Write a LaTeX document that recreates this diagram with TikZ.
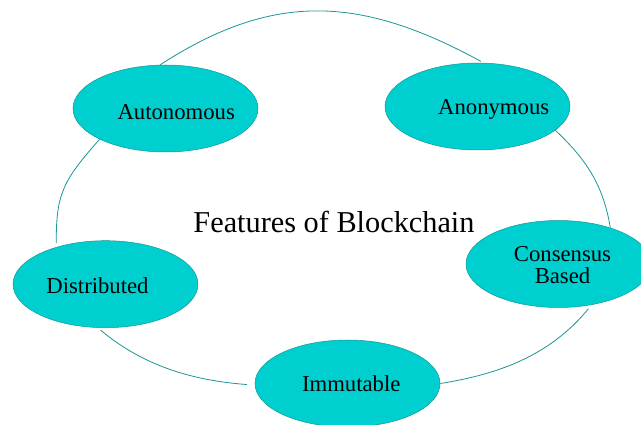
\documentclass[tikz,border=0pt]{standalone}
\usepackage{fontspec}
\setmainfont{Liberation Serif}
\usetikzlibrary{shapes.geometric}
\definecolor{bubfill}{RGB}{0,207,208}
\definecolor{bubline}{RGB}{20,150,150}
\definecolor{arcline}{RGB}{25,150,150}
\tikzset{
  bub/.style={ellipse, fill=bubfill, draw=bubline, line width=0.5pt,
    minimum width=185pt, minimum height=87pt, inner sep=0pt},
  txt/.style={font=\fontsize{22.7}{21.6}\selectfont, text=black, inner sep=0pt, align=center},
  ring/.style={draw=arcline, line width=0.8pt}
}
\begin{document}
\begin{tikzpicture}[x=1pt,y=-1pt]
\useasboundingbox (0,0) rectangle (641,425);
\node[bub, label={[txt, xshift=10.7pt, yshift=-4pt]center:Autonomous}] (aut) at (165.5,108.5) {};
\node[bub, label={[txt, xshift=16.2pt, yshift=-2.75pt]center:Anonymous}] (ano) at (477.5,106.5) {};
\node[bub, label={[txt, xshift=4pt, yshift=-0.85pt]center:Consensus\\Based}] (con) at (558.5,264) {};
\node[bub, label={[txt, xshift=3.7pt, yshift=0.25pt]center:Immutable}] (imm) at (347.5,383.5) {};
\node[bub, label={[txt, xshift=-8pt, yshift=-1.35pt]center:Distributed}] (dis) at (105.5,284.2) {};
\node[font=\fontsize{30.3}{36}\selectfont, inner sep=0pt, anchor=base] (title) at (334,232.3) {Features of Blockchain};
\draw[ring, shorten >=3pt] (aut.97.2) .. controls (274,-9) and (361,-4) .. (ano.82.9);
\draw[ring] (ano.343.5) .. controls (589,162) and (603.5,187.5) .. (con.35.7);
\draw[ring, shorten <=5pt] (con.-51.2) .. controls (550,355.6) and (498.8,374.2) .. (imm.-0.9);
\draw[ring, shorten <=8pt, shorten >=3.5pt] (imm.181.5) .. controls (192.3,380.5) and (142.9,365.7) .. (dis.260.2);
\draw[ring, shorten <=4pt] (dis.143.4) .. controls (56,193) and (63.2,180.7) .. (aut.205.7);
\end{tikzpicture}
\end{document}
